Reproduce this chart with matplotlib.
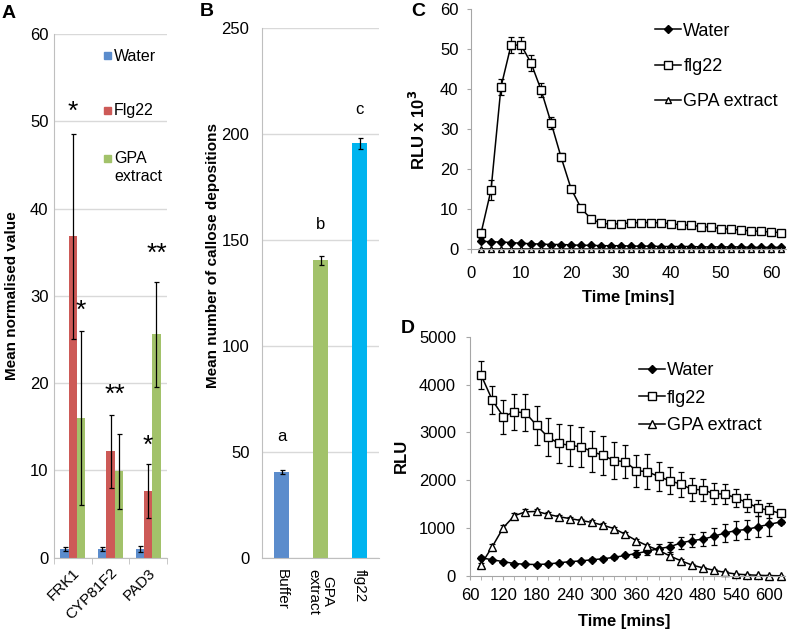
import numpy as np
import matplotlib
matplotlib.use("Agg")
import matplotlib.pyplot as plt
from matplotlib.patches import Rectangle

plt.rcParams['font.family'] = ['Liberation Sans', 'DejaVu Sans']

# ---- Panel A data: qPCR marker genes
genes = ['FRK1', 'CYP81F2', 'PAD3']
a_water = [1.0, 1.0, 1.0]
a_water_err = [0.2, 0.2, 0.3]
a_flg22 = [36.8, 12.2, 7.6]
a_flg22_err = [11.7, 4.2, 3.1]
a_gpa = [16.0, 9.9, 25.6]
a_gpa_err = [10.0, 4.3, 6.0]
# significance stars: (gene index, series offset index, label y, text)
star_gene = [0, 0, 1, 2, 2]
star_series = [1, 2, 1.5, 1, 2]
star_y = [52.0, 29.2, 19.5, 13.7, 35.7]
star_text = ['*', '*', '**', '*', '**']

# ---- Panel B data: callose deposition
b_labels = ['Buffer', 'GPA\nextract', 'flg22']
b_values = [40.4, 140.3, 195.5]
b_err = [1.0, 2.2, 2.7]
b_letters = ['a', 'b', 'c']
b_letter_y = [57.4, 157.4, 211.7]

# ---- Panel C data: ROS burst, RLU x 10^3
c_time = [2, 4, 6, 8, 10, 12, 14, 16, 18, 20, 22, 24, 26, 28, 30, 32, 34, 36,
          38, 40, 42, 44, 46, 48, 50, 52, 54, 56, 58, 60, 62]
c_water = [2.0, 1.9, 1.8, 1.7, 1.5, 1.4, 1.3, 1.2, 1.2, 1.1, 1.0, 1.0, 0.9, 0.9,
           0.9, 0.8, 0.8, 0.8, 0.7, 0.7, 0.7, 0.7, 0.6, 0.6, 0.6, 0.6, 0.6, 0.5,
           0.5, 0.5, 0.5]
c_water_err = [0.2] * 31
c_flg22 = [4.0, 14.8, 40.6, 51.0, 51.1, 46.6, 39.9, 31.7, 23.1, 15.2, 10.3, 7.6,
           6.5, 6.3, 6.4, 6.6, 6.7, 6.7, 6.6, 6.4, 6.1, 6.0, 5.7, 5.5, 5.2, 5.0,
           4.8, 4.6, 4.5, 4.3, 4.2]
c_flg22_err = [1.2, 2.5, 2.1, 2.0, 2.1, 2.0, 1.8, 1.5, 1.0, 0.7, 0.5, 0.4, 0.3,
               0.3, 0.3, 0.3, 0.3, 0.3, 0.3, 0.3, 0.3, 0.3, 0.3, 0.3, 0.3, 0.3,
               0.3, 0.3, 0.3, 0.3, 0.3]
c_gpa = [0.1] * 31
c_gpa_err = [0.0] * 31

# ---- Panel D data: long-term luminescence, RLU
d_time = [80, 100, 120, 140, 160, 180, 200, 220, 240, 260, 280, 300, 320, 340,
          360, 380, 400, 420, 440, 460, 480, 500, 520, 540, 560, 580, 600, 620]
d_water = [380, 340, 300, 260, 245, 240, 250, 275, 300, 315, 340, 360, 390, 430,
           470, 520, 570, 610, 690, 740, 770, 830, 900, 950, 975, 1030, 1080, 1130]
d_water_err = [30, 20, 20, 20, 20, 20, 20, 20, 20, 25, 30, 30, 35, 40,
               80, 90, 100, 110, 130, 140, 150, 180, 190, 200, 200, 220, 240, 50]
d_flg22 = [4200, 3680, 3330, 3430, 3410, 3150, 2910, 2770, 2730, 2700, 2600, 2520,
           2410, 2390, 2200, 2180, 2080, 1990, 1920, 1810, 1800, 1720, 1710, 1630,
           1530, 1420, 1370, 1310]
d_flg22_err = [300, 290, 355, 380, 390, 410, 395, 405, 425, 420, 425, 415, 390, 350,
               330, 360, 310, 285, 260, 235, 235, 215, 210, 190, 185, 165, 155, 60]
d_gpa = [240, 610, 1010, 1260, 1340, 1350, 1290, 1240, 1200, 1160, 1120, 1060, 990,
         870, 740, 630, 540, 420, 320, 230, 170, 120, 75, 40, 25, 15, 8, 5]
d_gpa_err = [40, 60, 60, 50, 50, 40, 40, 40, 40, 40, 40, 40, 40, 40,
             40, 40, 40, 40, 30, 30, 20, 20, 20, 10, 10, 10, 5, 5]

W, H = 790, 633
BLUE, RED, GREEN, CYAN = '#5b8ccc', '#cd5a57', '#a2c26a', '#00b4ef'
GRID, SPINE = '#d9d9d9', '#bfbfbf'


def box(l, t, r, b):
    return [l / W, 1 - b / H, (r - l) / W, (b - t) / H]


fig = plt.figure(figsize=(W / 100, H / 100), dpi=100)

# ================= A =================
ax = fig.add_axes(box(54, 34, 167, 557.7))
x = np.arange(len(genes))
bw, off = 0.22, 0.22
ekw = dict(ecolor='black', elinewidth=0.9, capsize=1.8, capthick=0.9)
ax.bar(x - off, a_water, bw, yerr=a_water_err, color=BLUE, error_kw=ekw, zorder=2)
ax.bar(x, a_flg22, bw, yerr=a_flg22_err, color=RED, error_kw=ekw, zorder=2)
ax.bar(x + off, a_gpa, bw, yerr=a_gpa_err, color=GREEN, error_kw=ekw, zorder=2)
for g, s, yy, t in zip(star_gene, star_series, star_y, star_text):
    ax.text(g + (s - 1) * off, yy - 0.9, t, ha='center', va='center', fontsize=19)
ax.set_xlim(-0.5, 2.5)
ax.set_ylim(0, 60)
ax.set_yticks(range(0, 61, 10))
ax.yaxis.grid(True, color=GRID, lw=1)
ax.set_axisbelow(True)
ax.set_xticks(x)
ax.set_xticklabels(genes, rotation=45, ha='right', rotation_mode='anchor', fontsize=11)
ax.set_xticks([-0.5, 0.5, 1.5, 2.5], minor=True)
ax.tick_params(axis='x', which='major', length=0, pad=6)
ax.tick_params(axis='x', which='minor', length=4, color=SPINE)
ax.tick_params(axis='y', length=0, pad=4, labelsize=12)
for s in ['top', 'right']:
    ax.spines[s].set_visible(False)
for s in ['left', 'bottom']:
    ax.spines[s].set_color(SPINE)
ax.set_ylabel('Mean normalised value', fontsize=11, fontweight='bold')
ax.yaxis.set_label_coords(-0.31, 0.5)
# legend drawn Excel-style
leg_items = [('Water', BLUE, 0.966), ('Flg22', RED, 0.862), ('GPA\nextract', GREEN, 0.771)]
for lab, col, yy in leg_items:
    ax.add_patch(Rectangle((0.44, yy - 0.0145), 0.062, 0.0134, color=col,
                           transform=ax.transAxes, clip_on=False))
    ax.text(0.53, yy + 0.006, lab, transform=ax.transAxes, fontsize=11.5,
            va='top', ha='left', linespacing=1.3)

# ================= B =================
ax = fig.add_axes(box(262, 28, 379, 557.7))
xb = np.arange(len(b_labels))
ax.bar(xb, b_values, 0.41, yerr=b_err, color=[BLUE, GREEN, CYAN],
       error_kw=ekw, zorder=2)
for xi, lt, yy in zip(xb, b_letters, b_letter_y):
    ax.text(xi, yy, lt, ha='center', va='center', fontsize=12)
ax.set_xlim(-0.5, 2.5)
ax.set_ylim(0, 250)
ax.set_yticks(range(0, 251, 50))
ax.yaxis.grid(True, color=GRID, lw=1)
ax.set_axisbelow(True)
ax.set_xticks(xb)
ax.set_xticklabels(b_labels, rotation=-90, ha='center', va='top', fontsize=11,
                   linespacing=1.0)
ax.tick_params(axis='x', length=0, pad=8)
ax.tick_params(axis='y', length=0, pad=9, labelsize=12)
for s in ['top', 'right']:
    ax.spines[s].set_visible(False)
for s in ['left', 'bottom']:
    ax.spines[s].set_color(SPINE)
ax.set_ylabel('Mean number of callose depositions', fontsize=11, fontweight='bold')
ax.yaxis.set_label_coords(-0.36, 0.57)


def style_line_axes(ax):
    for s in ['top', 'right']:
        ax.spines[s].set_visible(False)
    for s in ['left', 'bottom']:
        ax.spines[s].set_color('#a6a6a6')
    ax.tick_params(which='both', direction='out', color='#a6a6a6', labelsize=12)


lkw = dict(color='black', lw=1.1, ecolor='black', elinewidth=0.9, capthick=0.9)


def series(ax, t, v, e, **kw):
    h = ax.errorbar(t, v, yerr=e, **kw, **lkw)
    for artist in h.get_children():
        artist.set_clip_on(False)
    return h


# ================= C =================
ax = fig.add_axes(box(471, 9.3, 786, 249.3))
hw = series(ax, c_time, c_water, c_water_err, marker='D', ms=3.8,
            mfc='black', mec='black', capsize=2)
hf = series(ax, c_time, c_flg22, c_flg22_err, marker='s', ms=5.5,
            mfc='white', mec='black', capsize=2)
hg = series(ax, c_time, c_gpa, c_gpa_err, marker='^', ms=5,
            mfc='white', mec='black', capsize=2)
ax.set_xlim(0, 63)
ax.set_ylim(0, 60)
ax.set_xticks(range(0, 61, 10))
ax.set_yticks(range(0, 61, 10))
style_line_axes(ax)
ax.tick_params(axis='x', length=3, pad=9)
ax.tick_params(axis='y', length=3, pad=6)
ax.set_ylabel(r'RLU x 10$^\mathbf{3}$', fontsize=12, fontweight='bold')
ax.yaxis.set_label_coords(-0.137, 0.5)
ax.set_xlabel('Time [mins]', fontsize=12, fontweight='bold')
ax.xaxis.set_label_coords(0.5, -0.17)
ax.legend(handles=[hw[0], hf[0], hg[0]], labels=['Water', 'flg22', 'GPA extract'],
          loc='upper left', bbox_to_anchor=(0.585, 0.945), frameon=False,
          fontsize=13, handlelength=1.45, handletextpad=0.1, labelspacing=1.02,
          borderpad=0, borderaxespad=0)

# ================= D =================
ax = fig.add_axes(box(470, 336.7, 785, 576))
hw = series(ax, d_time, d_water, d_water_err, marker='D', ms=4.3,
            mfc='black', mec='black', capsize=2.2)
hf = series(ax, d_time, d_flg22, d_flg22_err, marker='s', ms=6.3,
            mfc='white', mec='black', capsize=2.2)
hg = series(ax, d_time, d_gpa, d_gpa_err, marker='^', ms=5.5,
            mfc='white', mec='black', capsize=2.2)
ax.set_xlim(60, 628)
ax.set_ylim(0, 5000)
ax.set_xticks(range(60, 601, 60))
ax.set_xticks(range(80, 621, 20), minor=True)
ax.set_yticks(range(0, 5001, 1000))
style_line_axes(ax)
ax.tick_params(axis='x', which='both', length=3, pad=6)
ax.tick_params(axis='y', length=3, pad=7)
ax.set_ylabel('RLU', fontsize=12, fontweight='bold')
ax.yaxis.set_label_coords(-0.194, 0.5)
ax.set_xlabel('Time [mins]', fontsize=12, fontweight='bold')
ax.xaxis.set_label_coords(0.49, -0.16)
ax.legend(handles=[hw[0], hf[0], hg[0]], labels=['Water', 'flg22', 'GPA extract'],
          loc='upper left', bbox_to_anchor=(0.535, 0.895), frameon=False,
          fontsize=13, handlelength=1.45, handletextpad=0.1, labelspacing=0.6,
          borderpad=0, borderaxespad=0)

# panel letters
for lab, px, py in [('A', 2, 5), ('B', 200, 3), ('C', 411, 3), ('D', 401, 320)]:
    fig.text(px / W, 1 - py / H, lab, fontsize=14, fontweight='bold',
             ha='left', va='top')

fig.savefig('out.png', dpi=100)
